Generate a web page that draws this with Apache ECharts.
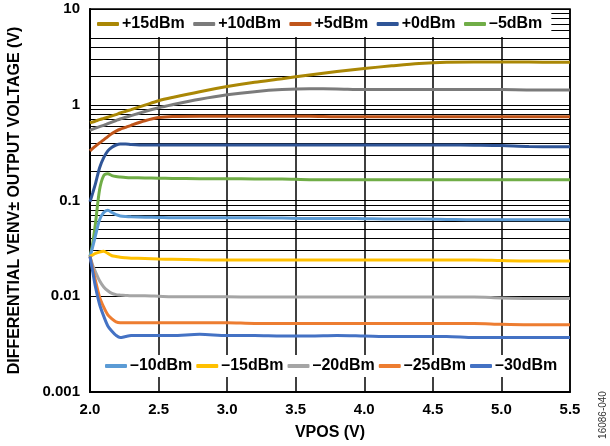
<!DOCTYPE html>
<html>
<head>
<meta charset="utf-8">
<script src="https://cdn.jsdelivr.net/npm/echarts@6/dist/echarts.min.js"></script>
<style>
html,body{margin:0;padding:0;background:#fff;}
#c{width:610px;height:446px;}
</style>
</head>
<body>
<div id="c"></div>
<script>
// VPOS sample points (V)
const vpos = [2.0, 2.02, 2.04, 2.07, 2.1, 2.13, 2.16, 2.19, 2.22, 2.26, 2.3, 2.4, 2.5, 2.6, 2.8, 3.0, 3.2, 3.4, 3.6, 3.8, 4.0, 4.2, 4.4, 4.6, 4.8, 5.0, 5.2, 5.4, 5.5];

// Differential VENV± output voltage (V) per input level
const p15 = [0.65, 0.66, 0.675, 0.70, 0.72, 0.74, 0.765, 0.79, 0.82, 0.855, 0.89, 0.99, 1.10, 1.19, 1.37, 1.55, 1.72, 1.87, 2.05, 2.22, 2.39, 2.55, 2.70, 2.78, 2.79, 2.79, 2.79, 2.78, 2.78];
const p10 = [0.54, 0.555, 0.57, 0.59, 0.61, 0.635, 0.66, 0.685, 0.71, 0.74, 0.77, 0.85, 0.93, 1.0, 1.14, 1.27, 1.37, 1.44, 1.47, 1.46, 1.44, 1.44, 1.44, 1.44, 1.44, 1.44, 1.43, 1.43, 1.43];
const p5 = [0.33, 0.35, 0.37, 0.40, 0.43, 0.465, 0.50, 0.53, 0.555, 0.58, 0.61, 0.68, 0.735, 0.755, 0.76, 0.76, 0.76, 0.76, 0.76, 0.75, 0.75, 0.75, 0.75, 0.75, 0.75, 0.75, 0.75, 0.75, 0.75];
const p0 = [0.097, 0.12, 0.15, 0.22, 0.28, 0.33, 0.36, 0.38, 0.39, 0.39, 0.385, 0.38, 0.38, 0.38, 0.38, 0.38, 0.38, 0.38, 0.38, 0.38, 0.38, 0.38, 0.38, 0.38, 0.378, 0.375, 0.366, 0.365, 0.365];
const m5 = [0.026, 0.036, 0.058, 0.13, 0.182, 0.19, 0.182, 0.178, 0.176, 0.174, 0.173, 0.172, 0.171, 0.170, 0.169, 0.169, 0.168, 0.168, 0.165, 0.165, 0.165, 0.165, 0.165, 0.165, 0.165, 0.165, 0.165, 0.165, 0.165];
const m10 = [0.026, 0.033, 0.043, 0.063, 0.075, 0.079, 0.075, 0.071, 0.069, 0.068, 0.0675, 0.067, 0.0665, 0.066, 0.066, 0.066, 0.066, 0.0655, 0.065, 0.065, 0.0645, 0.064, 0.064, 0.0635, 0.063, 0.063, 0.063, 0.063, 0.063];
const m15 = [0.026, 0.027, 0.028, 0.029, 0.0295, 0.028, 0.0265, 0.026, 0.0255, 0.0252, 0.025, 0.0248, 0.0245, 0.0243, 0.024, 0.0239, 0.0239, 0.0239, 0.0239, 0.0239, 0.0239, 0.0239, 0.0239, 0.0239, 0.0239, 0.0236, 0.0234, 0.0234, 0.0234];
const m20 = [0.026, 0.021, 0.018, 0.0145, 0.0125, 0.0114, 0.0107, 0.0104, 0.0103, 0.0102, 0.0101, 0.0101, 0.0100, 0.0099, 0.0099, 0.0099, 0.0098, 0.0098, 0.0098, 0.0098, 0.0098, 0.0098, 0.0098, 0.0098, 0.0098, 0.0096, 0.0095, 0.0095, 0.0095];
const m25 = [0.026, 0.0195, 0.0145, 0.0098, 0.0077, 0.0064, 0.0058, 0.0054, 0.0053, 0.0053, 0.0053, 0.0053, 0.0053, 0.0053, 0.0053, 0.0053, 0.0052, 0.0052, 0.0052, 0.0052, 0.0052, 0.0052, 0.0052, 0.0052, 0.0052, 0.0051, 0.00505, 0.00505, 0.00505];
const m30 = [0.026, 0.018, 0.0125, 0.0082, 0.0062, 0.0049, 0.0043, 0.0039, 0.0037, 0.0038, 0.00388, 0.0039, 0.0039, 0.0039, 0.004, 0.0039, 0.0039, 0.00385, 0.00385, 0.0039, 0.00385, 0.0038, 0.0038, 0.0038, 0.0037, 0.0037, 0.0037, 0.0037, 0.0037];

const seriesNames = ['+15dBm', '+10dBm', '+5dBm', '+0dBm', '–5dBm', '–10dBm', '–15dBm', '–20dBm', '–25dBm', '–30dBm'];
const seriesValues = [p15, p10, p5, p0, m5, m10, m15, m20, m25, m30];
const seriesColors = ['#AA8705', '#7B7B7B', '#C0551A', '#2F5597', '#70AD47', '#5B9BD5', '#FFC000', '#A5A5A5', '#ED7D31', '#4472C4'];

const xTickLabels = ['2.0', '2.5', '3.0', '3.5', '4.0', '4.5', '5.0', '5.5'];
const yTickLabels = ['0.001', '0.01', '0.1', '1', '10'];

// minor log grid values
const minorGrid = [];
for (let e = -3; e < 1; e++) {
  for (let m = 2; m <= 9; m++) minorGrid.push(+(m * Math.pow(10, e)).toPrecision(3));
}

const FONT = 'Liberation Sans, Arial, sans-serif';

const series = seriesNames.map((n, k) => ({
  name: n,
  type: 'line',
  data: vpos.map((x, i) => [x, seriesValues[k][i]]),
  showSymbol: false,
  symbol: 'none',
  smooth: 0.3,
  z: 3,
  lineStyle: { color: seriesColors[k], width: 3 },
  itemStyle: { color: seriesColors[k] }
}));

series.unshift({
  name: 'grid',
  type: 'line',
  data: [],
  z: 1,
  silent: true,
  markLine: {
    silent: true,
    z: 1,
    symbol: ['none', 'none'],
    label: { show: false },
    lineStyle: { color: '#000', width: 1, type: 'solid' },
    emphasis: { disabled: true },
    animation: false,
    data: minorGrid.map(v => ({ yAxis: v }))
  }
});

const chart = echarts.init(document.getElementById('c'), null, { renderer: 'canvas' });
chart.setOption({
  animation: false,
  backgroundColor: '#fff',
  grid: { left: 90, right: 40, top: 9, bottom: 54, outerBoundsMode: 'none', containLabel: false, show: true, borderColor: '#000', borderWidth: 1.5, backgroundColor: 'transparent' },
  xAxis: {
    type: 'value', min: 2, max: 5.5, interval: 0.5,
    name: 'VPOS (V)', nameLocation: 'middle', nameGap: 33,
    nameTextStyle: { fontFamily: FONT, fontWeight: 'bold', fontSize: 16, color: '#000' },
    axisLine: { show: true, lineStyle: { color: '#000', width: 2 } },
    axisTick: { show: false },
    axisLabel: { margin: 10, fontFamily: FONT, fontWeight: 'bold', fontSize: 15, color: '#000',
      formatter: v => xTickLabels[Math.round((v - 2) / 0.5)] },
    splitLine: { show: true, lineStyle: { color: '#000', width: 1.5 } }
  },
  yAxis: {
    type: 'log', logBase: 10, min: 0.001, max: 10,
    name: 'DIFFERENTIAL VENV± OUTPUT VOLTAGE (V)', nameLocation: 'middle', nameGap: 67,
    nameTextStyle: { fontFamily: FONT, fontWeight: 'bold', fontSize: 16, color: '#000' },
    axisLine: { show: true, lineStyle: { color: '#000', width: 2 } },
    axisTick: { show: false },
    axisLabel: { margin: 10, fontFamily: FONT, fontWeight: 'bold', fontSize: 15, color: '#000', padding: [4, 0, 0, 0],
      formatter: v => yTickLabels[Math.round(Math.log10(v)) + 3] },
    splitLine: { show: true, lineStyle: { color: '#000', width: 1 } }
  },
  legend: [
    {
      data: seriesNames.slice(0, 5),
      left: 91, top: 10, orient: 'horizontal',
      padding: [6, 9, 5, 6], itemGap: 8.5,
      itemWidth: 22, itemHeight: 4, icon: 'roundRect',
      backgroundColor: '#fff', z: 10,
      selectedMode: false,
      textStyle: { fontFamily: FONT, fontWeight: 'bold', fontSize: 16, color: '#000', padding: [0, 0, 0, -2] }
    },
    {
      data: seriesNames.slice(5),
      left: 97, top: 355, orient: 'horizontal',
      padding: [3, 4, 3, 8], itemGap: 4,
      itemWidth: 22, itemHeight: 4, icon: 'roundRect',
      backgroundColor: '#fff', z: 10,
      selectedMode: false,
      textStyle: { fontFamily: FONT, fontWeight: 'bold', fontSize: 16, color: '#000', padding: [0, 0, 0, -2] }
    }
  ],
  graphic: [{
    type: 'text', x: 603, y: 415, rotation: Math.PI / 2,
    style: { text: '16086-040', fontFamily: FONT, fontSize: 10, fill: '#333', align: 'center', verticalAlign: 'middle' }
  }],
  series: series
});
</script>
</body>
</html>
